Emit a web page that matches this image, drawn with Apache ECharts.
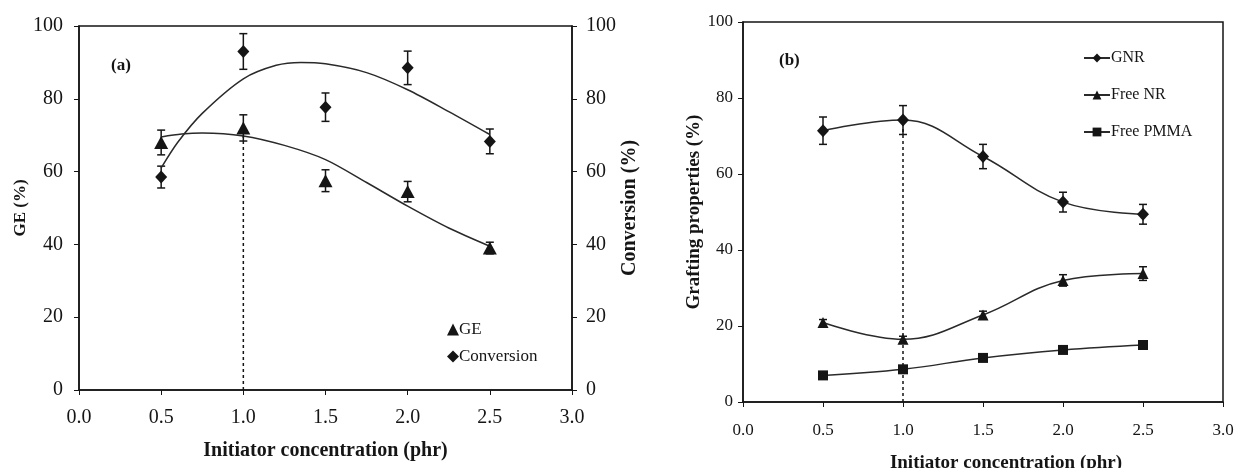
<!DOCTYPE html>
<html>
<head>
<meta charset="utf-8">
<script src="https://cdn.jsdelivr.net/npm/echarts@6/dist/echarts.min.js"></script>
<style>
  html, body { margin: 0; background: #fff; }
  #chart { width: 1235px; height: 468px; }
</style>
</head>
<body>
<div id="chart"></div>
<script>
// initiator concentration (phr)
const conc = [0.5, 1.0, 1.5, 2.0, 2.5];

// panel (a)
const geValues = [68, 72, 57.5, 54.5, 39];
const geErr = [3.4, 3.6, 3, 2.8, 1.6];
const convValues = [58.5, 93, 77.7, 88.5, 68.3];
const convErr = [3, 4.9, 3.9, 4.6, 3.4];
// trend curves
const geFit = [[0.5, 69.5], [0.625, 70.3], [0.75, 70.6], [1.0, 69.8], [1.25, 67.2], [1.5, 63.3], [1.75, 57], [2.0, 50.5], [2.25, 44.5], [2.5, 39.5]];
const convFit = [[0.5, 61], [0.6, 68], [0.75, 76], [1.0, 85.5], [1.2, 89.2], [1.35, 90], [1.5, 89.6], [1.75, 87.2], [2.0, 82.5], [2.25, 76.5], [2.5, 70.2]];
const dropA = [[1.0, 0], [1.0, 70]];

// panel (b)
const gnrValues = [71.4, 74.2, 64.6, 52.6, 49.4];
const gnrErr = [3.6, 3.8, 3.2, 2.6, 2.6];
const freeNrValues = [20.9, 16.5, 22.9, 32, 33.8];
const freeNrErr = [0.8, 0.8, 1, 1.5, 1.8];
const freePmmaValues = [7, 8.6, 11.6, 13.7, 15];
const freePmmaErr = [0.5, 0.6, 0.6, 0.6, 0.6];
const dropB = [[1.0, 0], [1.0, 74.2]];

const FONT = 'Liberation Serif';
const INK = '#151515';
const DIAMOND = 'path://M0,-1L1,0L0,1L-1,0Z';

function pairs(xs, ys) {
  return xs.map((x, i) => [x, ys[i]]);
}
function errRows(xs, ys, errs) {
  return xs.map((x, i) => [x, ys[i] - errs[i], ys[i] + errs[i]]);
}

function renderErr(params, api) {
  const x = api.value(0);
  const lo = api.coord([x, api.value(1)]);
  const hi = api.coord([x, api.value(2)]);
  const w = 4;
  const style = { stroke: INK, lineWidth: 1.5 };
  return {
    type: 'group',
    children: [
      { type: 'line', shape: { x1: lo[0], y1: lo[1], x2: hi[0], y2: hi[1] }, style },
      { type: 'line', shape: { x1: lo[0] - w, y1: lo[1], x2: lo[0] + w, y2: lo[1] }, style },
      { type: 'line', shape: { x1: hi[0] - w, y1: hi[1], x2: hi[0] + w, y2: hi[1] }, style }
    ]
  };
}

function errSeries(name, rows, xi, yi) {
  return {
    name: name + ' err', type: 'custom', xAxisIndex: xi, yAxisIndex: yi,
    renderItem: renderErr, encode: { x: 0, y: [1, 2] }, data: rows, z: 1, silent: true
  };
}

function xAxisCfg(grid, labelSize, nameSize, nameGap, margin, pad) {
  return {
    gridIndex: grid, type: 'value', min: 0, max: 3, interval: 0.5,
    axisLine: { lineStyle: { color: INK, width: 1.5 } },
    axisTick: { length: 5, lineStyle: { color: INK } },
    splitLine: { show: false },
    axisLabel: { formatter: v => v.toFixed(1), fontFamily: FONT, fontSize: labelSize, color: INK, margin: margin },
    name: 'Initiator concentration (phr)', nameLocation: 'middle', nameGap: nameGap,
    nameTextStyle: { fontFamily: FONT, fontWeight: 'bold', fontSize: nameSize, color: INK, padding: pad }
  };
}

function yAxisCfg(grid, pos, name, labelSize, nameSize, nameGap, margin) {
  return {
    gridIndex: grid, type: 'value', position: pos, min: 0, max: 100, interval: 20,
    axisLine: { show: true, lineStyle: { color: INK, width: 1.5 } },
    axisTick: { show: true, length: 5, lineStyle: { color: INK } },
    splitLine: { show: false },
    axisLabel: { fontFamily: FONT, fontSize: labelSize, color: INK, margin: margin },
    name: name, nameLocation: 'middle', nameGap: nameGap, nameRotate: 90,
    nameTextStyle: { fontFamily: FONT, fontWeight: 'bold', fontSize: nameSize, color: INK }
  };
}

const chart = echarts.init(document.getElementById('chart'));
chart.setOption({
  animation: false,
  backgroundColor: '#fff',
  title: [
    { text: '(a)', left: 106, top: 52, textStyle: { fontFamily: FONT, fontSize: 17, fontWeight: 'bold', color: INK } },
    { text: '(b)', left: 774, top: 47, textStyle: { fontFamily: FONT, fontSize: 17, fontWeight: 'bold', color: INK } }
  ],
  legend: [
    {
      data: ['GE', 'Conversion'], orient: 'vertical', left: 442, top: 316,
      itemWidth: 12, itemHeight: 12, itemGap: 10,
      textStyle: { fontFamily: FONT, fontSize: 17, color: INK, padding: [0, 0, 0, -5] }
    },
    {
      data: ['GNR', 'Free NR', 'Free PMMA'], orient: 'vertical', left: 1078, top: 45,
      itemWidth: 26, itemHeight: 11, itemGap: 21,
      textStyle: { fontFamily: FONT, fontSize: 16, color: INK, padding: [0, 0, 0, -4] }
    }
  ],
  grid: [
    { left: 79, right: 663, top: 26, height: 364, outerBoundsMode: 'none', show: true, borderColor: INK, borderWidth: 1.5, backgroundColor: 'transparent' },
    { left: 743, right: 12, top: 22, height: 380, outerBoundsMode: 'none', show: true, borderColor: INK, borderWidth: 1.5, backgroundColor: 'transparent' }
  ],
  xAxis: [
    xAxisCfg(0, 20, 20, 51, 18, [0, 0, 0, 0]),
    xAxisCfg(1, 17, 19, 52, 20, [0, 0, 0, 46])
  ],
  yAxis: [
    yAxisCfg(0, 'left', 'GE (%)', 20, 17, 50, 16),
    yAxisCfg(0, 'right', 'Conversion (%)', 20, 20, 48, 14),
    yAxisCfg(1, 'left', 'Grafting properties (%)', 17, 19, 38, 10)
  ],
  series: [
    // panel (a)
    {
      name: 'GE fit', type: 'line', xAxisIndex: 0, yAxisIndex: 0, data: geFit,
      smooth: 0.3, showSymbol: false, silent: true, lineStyle: { color: '#2a2a2a', width: 1.5 }, z: 1
    },
    {
      name: 'Conversion fit', type: 'line', xAxisIndex: 0, yAxisIndex: 1, data: convFit,
      smooth: 0.3, showSymbol: false, silent: true, lineStyle: { color: '#2a2a2a', width: 1.5 }, z: 1
    },
    {
      name: 'dropA', type: 'line', xAxisIndex: 0, yAxisIndex: 0, data: dropA,
      showSymbol: false, silent: true, lineStyle: { color: INK, width: 1.5, type: [3, 3] }, z: 1
    },
    errSeries('GE', errRows(conc, geValues, geErr), 0, 0),
    errSeries('Conversion', errRows(conc, convValues, convErr), 0, 1),
    {
      name: 'GE', type: 'scatter', xAxisIndex: 0, yAxisIndex: 0, data: pairs(conc, geValues),
      symbol: 'triangle', symbolSize: [14, 13], itemStyle: { color: INK, opacity: 1 }, z: 3
    },
    {
      name: 'Conversion', type: 'scatter', xAxisIndex: 0, yAxisIndex: 1, data: pairs(conc, convValues),
      symbol: DIAMOND, symbolSize: [12, 13], itemStyle: { color: INK, opacity: 1 }, z: 3
    },
    // panel (b)
    {
      name: 'dropB', type: 'line', xAxisIndex: 1, yAxisIndex: 2, data: dropB,
      showSymbol: false, silent: true, lineStyle: { color: INK, width: 1.5, type: [3, 3] }, z: 1
    },
    errSeries('GNR', errRows(conc, gnrValues, gnrErr), 1, 2),
    errSeries('Free NR', errRows(conc, freeNrValues, freeNrErr), 1, 2),
    errSeries('Free PMMA', errRows(conc, freePmmaValues, freePmmaErr), 1, 2),
    {
      name: 'GNR', type: 'line', xAxisIndex: 1, yAxisIndex: 2, data: pairs(conc, gnrValues),
      smooth: 0.4, symbol: DIAMOND, symbolSize: [12, 13],
      itemStyle: { color: INK }, lineStyle: { color: '#2a2a2a', width: 1.5 }, z: 3
    },
    {
      name: 'Free NR', type: 'line', xAxisIndex: 1, yAxisIndex: 2, data: pairs(conc, freeNrValues),
      smooth: 0.4, symbol: 'triangle', symbolSize: 11,
      itemStyle: { color: INK }, lineStyle: { color: '#2a2a2a', width: 1.5 }, z: 3
    },
    {
      name: 'Free PMMA', type: 'line', xAxisIndex: 1, yAxisIndex: 2, data: pairs(conc, freePmmaValues),
      smooth: 0.4, symbol: 'rect', symbolSize: 10,
      itemStyle: { color: INK }, lineStyle: { color: '#2a2a2a', width: 1.5 }, z: 3
    }
  ]
});
</script>
</body>
</html>
